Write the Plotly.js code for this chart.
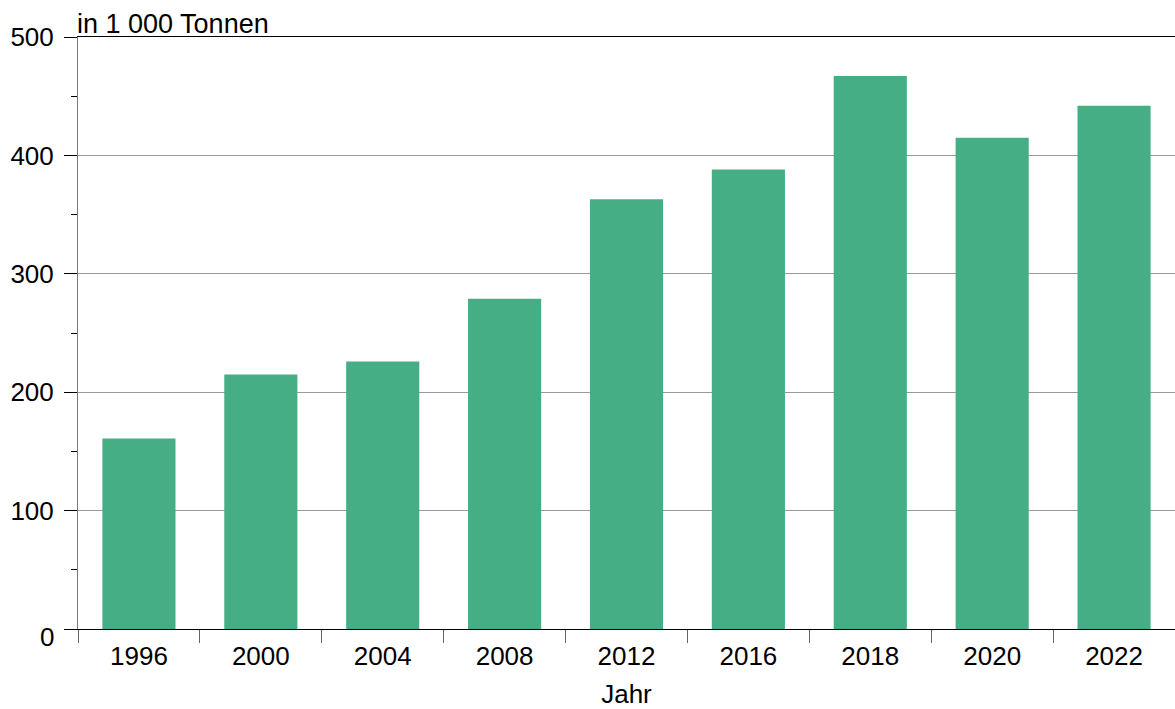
<!DOCTYPE html>
<html>
<head>
<meta charset="utf-8">
<script src="https://cdn.plot.ly/plotly-3.0.1.min.js"></script>
<style>
html,body{margin:0;padding:0;background:#fff;}
#chart{width:1175px;height:709px;}
</style>
</head>
<body>
<div id="chart"></div>
<script>
var years = ["1996","2000","2004","2008","2012","2016","2018","2020","2022"];
var values = [161, 215, 226, 279, 363, 388, 467, 415, 442];
var yTickVals = [0, 100, 200, 300, 400, 500];
var yTickText = ["", "100", "200", "300", "400", "500"];
var barColor = "#45AE85";
var unitLabel = "in 1 000 Tonnen";
var xTitle = "Jahr";

var font = {family: "Liberation Sans, Arial, sans-serif", size: 26, color: "#000"};
var titleFont = {family: "Liberation Sans, Arial, sans-serif", size: 27, color: "#000"};

var trace = {
  type: "bar",
  x: years,
  y: values,
  marker: {color: barColor, line: {width: 0}},
  hoverinfo: "x+y"
};

var layout = {
  width: 1175,
  height: 709,
  margin: {l: 78, r: 0, t: 37, b: 80},
  paper_bgcolor: "#fff",
  plot_bgcolor: "#fff",
  font: font,
  bargap: 0.4,
  showlegend: false,
  xaxis: {
    type: "category",
    showline: true,
    linecolor: "#000",
    linewidth: 1,
    mirror: true,
    ticks: "outside",
    tickson: "boundaries",
    ticklen: 13,
    tickcolor: "#666",
    tickwidth: 1,
    ticklabelstandoff: 4,
    showgrid: false,
    tickfont: font,
    title: {text: xTitle, font: font, standoff: 19}
  },
  yaxis: {
    range: [0, 500],
    tickmode: "array",
    tickvals: yTickVals,
    ticktext: yTickText,
    showline: true,
    linecolor: "#777",
    linewidth: 1,
    ticks: "outside",
    ticklen: 13,
    tickcolor: "#000",
    tickwidth: 1,
    ticklabelstandoff: 5,
    showgrid: true,
    gridcolor: "#999",
    gridwidth: 1,
    zeroline: false,
    tickfont: font,
    minor: {dtick: 50, ticks: "outside", ticklen: 6, tickcolor: "#000", showgrid: false}
  },
  annotations: [{
    text: unitLabel,
    xref: "paper", yref: "paper",
    x: 0, y: 1,
    xanchor: "left", yanchor: "bottom",
    showarrow: false,
    font: titleFont,
    xshift: -3,
    yshift: -4
  }, {
    text: "0",
    xref: "paper", yref: "y",
    x: 0, y: 0,
    xanchor: "right", yanchor: "middle",
    showarrow: false,
    font: font,
    xshift: -22,
    yshift: -8
  }]
};

Plotly.newPlot("chart", [trace], layout, {displayModeBar: false, staticPlot: true});
</script>
</body>
</html>
